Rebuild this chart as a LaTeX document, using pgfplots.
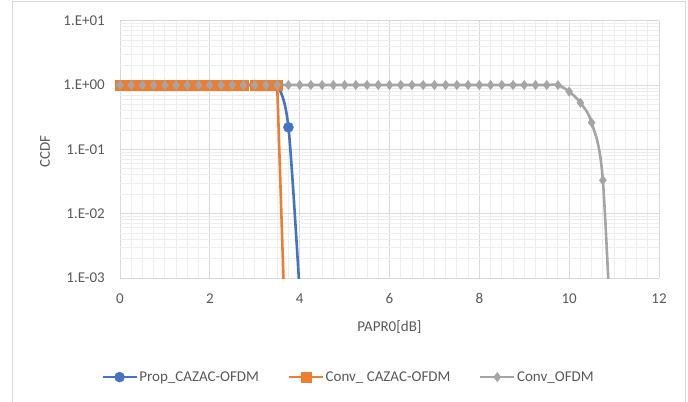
\documentclass[border=0pt]{standalone}
\usepackage{pgfplots}
\pgfplotsset{compat=1.18}
\usepackage{fontspec}
\setmainfont{Carlito}
\definecolor{cblue}{HTML}{4472C4}
\definecolor{corange}{HTML}{ED7D31}
\definecolor{cgray}{HTML}{A5A5A5}
\definecolor{ctext}{HTML}{595959}
\definecolor{cmajor}{HTML}{D9D9D9}
\definecolor{cminor}{HTML}{EEEEEE}
\definecolor{cframe}{HTML}{D9D9D9}
\begin{document}
\begin{tikzpicture}
\useasboundingbox (0bp,0bp) rectangle (688bp,402bp);
\draw[cframe, line width=0.8bp] (12.5bp,-2bp) -- (12.5bp,401bp) -- (685bp,401bp) -- (685bp,-2bp);
\begin{axis}[
  at={(120bp,124bp)}, anchor=south west,
  scale only axis, width=539bp, height=257.3bp,
  xmin=0, xmax=12, ymin=1e-3, ymax=10,
  ymode=log,
  xtick={0,2,4,6,8,10,12},
  xticklabels={0,2,4,6,8,10,12},
  minor x tick num=7,
  ytick={1e-3,1e-2,1e-1,1,10},
  yticklabels={1.E-03,1.E-02,1.E-01,1.E+00,1.E+01},
  grid=both,
  major grid style={cmajor, line width=0.9bp},
  minor grid style={cminor, line width=0.9bp},
  axis line style={draw=none},
  major tick length=0pt, minor tick length=0pt,
  tick label style={font=\fontsize{15bp}{18bp}\selectfont, text=ctext, inner sep=0pt},
  xticklabel style={anchor=north, yshift=-15.5bp},
  yticklabel style={anchor=east, xshift=-15bp},
  every axis y label/.style={at={(axis description cs:-0.1391,0.49)}, anchor=center, rotate=90, font=\fontsize{15bp}{18bp}\selectfont, text=ctext},
  every axis x label/.style={at={(axis description cs:0.5,-0.1907)}, anchor=center, font=\fontsize{15bp}{18bp}\selectfont, text=ctext},
  xlabel={PAPR0[dB]},
  ylabel={CCDF},
  legend columns=3,
  legend style={at={(axis description cs:0.4235,-0.3852)}, anchor=center, draw=none, fill=none,
    font=\fontsize{15bp}{18bp}\selectfont, text=ctext,
    /tikz/every even column/.append style={column sep=27bp},
    nodes={inner sep=1.5bp}},
  legend image code/.code={
    \draw[#1] (0bp,0bp) -- (34bp,0bp);
    \draw[#1, mark indices={2}] plot coordinates {(0bp,0bp) (17bp,0bp) (34bp,0bp)};
  },
]
\addplot[cblue, line width=2.6bp, smooth, mark=*, mark size=5bp, mark options={fill=cblue, draw=cblue, line width=0.5bp}, mark indices={1,...,16}] coordinates {
(0,1) (0.25,1) (0.5,1) (0.75,1) (1,1) (1.25,1) (1.5,1) (1.75,1) (2,1) (2.25,1) (2.5,1) (2.75,1) (3,1) (3.25,1) (3.5,1) (3.75,0.22) (4,6e-4)
};
\addlegendentry{Prop\_CAZAC-OFDM}
\addplot[corange, line width=2.6bp, mark=square*, mark size=5.1bp, mark options={fill=corange, draw=corange, line width=0.3bp}, mark indices={1,...,15}] coordinates {
(0,1) (0.25,1) (0.5,1) (0.75,1) (1,1) (1.25,1) (1.5,1) (1.75,1) (2,1) (2.25,1) (2.5,1) (2.75,1) (3,1) (3.25,1) (3.5,1) (3.75,4e-6)
};
\addlegendentry{Conv\_ CAZAC-OFDM}
\addplot[cgray, line width=2.6bp, smooth, mark=diamond*, mark size=4.6bp, mark options={fill=cgray, draw=cgray, line width=0.5bp}, mark indices={1,...,44}] coordinates {
(0,1) (0.25,1) (0.5,1) (0.75,1) (1,1) (1.25,1) (1.5,1) (1.75,1) (2,1) (2.25,1) (2.5,1) (2.75,1) (3,1) (3.25,1) (3.5,1) (3.75,1)
(4,1) (4.25,1) (4.5,1) (4.75,1) (5,1) (5.25,1) (5.5,1) (5.75,1) (6,1) (6.25,1) (6.5,1) (6.75,1) (7,1) (7.25,1) (7.5,1) (7.75,1)
(8,1) (8.25,1) (8.5,1) (8.75,1) (9,1) (9.25,1) (9.5,1) (9.75,1) (10,0.79) (10.25,0.53) (10.5,0.26) (10.75,0.033) (11,1e-5)
};
\addlegendentry{Conv\_OFDM}
\end{axis}
\end{tikzpicture}
\end{document}
